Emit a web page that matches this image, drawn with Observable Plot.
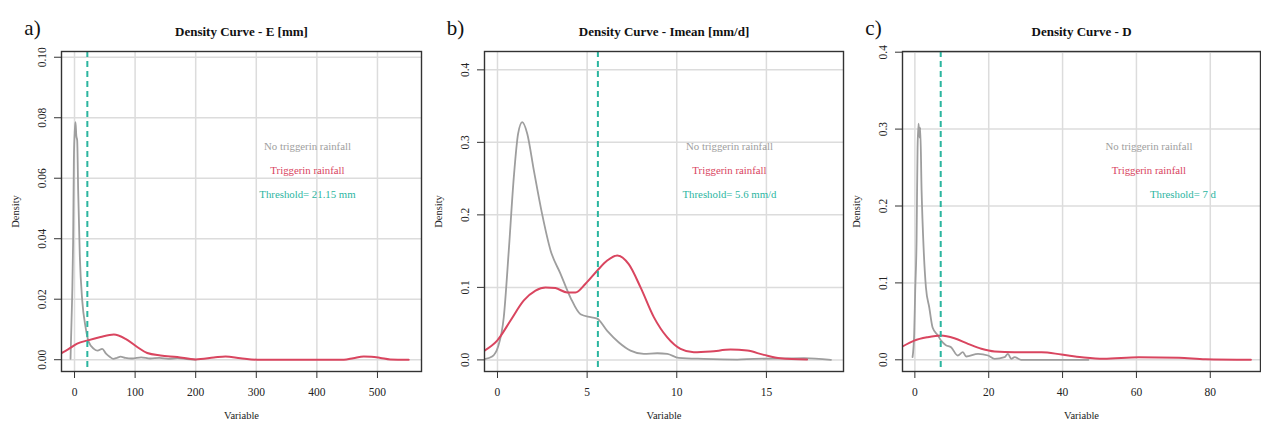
<!DOCTYPE html>
<html>
<head>
<meta charset="utf-8">
<script src="https://cdn.jsdelivr.net/npm/d3@7"></script>
<script src="https://cdn.jsdelivr.net/npm/@observablehq/plot@0.6"></script>
<style>
  body { margin: 0; background: white; font-family: "Liberation Serif", serif; }
  #wrap { position: relative; width: 1261px; height: 427px; overflow: hidden; background: white; }
  .panel { position: absolute; top: 0; }
  .panel text { font-family: "Liberation Serif", serif !important; }
</style>
</head>
<body>
<div id="wrap"></div>
<script>
// ---------------- DATA ----------------
const panelTags = ["a)", "b)", "c)"];
const titles = ["Density Curve - E [mm]", "Density Curve - Imean [mm/d]", "Density Curve - D"];
const legendLabels = ["No triggerin rainfall", "Triggerin rainfall"];
const thresholdLabels = ["Threshold= 21.15 mm", "Threshold= 5.6 mm/d", "Threshold= 7 d"];
const thresholds = [21.15, 5.6, 7];

const xTicksA = [0, 100, 200, 300, 400, 500];
const yTicksA = [0, 0.02, 0.04, 0.06, 0.08, 0.10];
const xTicksB = [0, 5, 10, 15];
const yTicksB = [0, 0.1, 0.2, 0.3, 0.4];
const xTicksC = [0, 20, 40, 60, 80];
const yTicksC = [0, 0.1, 0.2, 0.3, 0.4];

// Panel a: E [mm]  [x, density]
const grayA = [[-6.6,0.0003],[-3.9,0.0207],[-2.3,0.0394],[-1.1,0.0659],[0.5,0.076],[1.6,0.0785],[3,0.074],[4.4,0.0725],[6.0,0.056],[8.8,0.0339],[12.7,0.0196],[18.2,0.0108],[23.6,0.0058],[31.9,0.0036],[38,0.0030],[45.7,0.0036],[52,0.0020],[58,0.0010],[64,0.0003],[70,0.0006],[76,0.0010],[84,0.0006],[95,0.0004],[110,0.0008],[125,0.0004],[140,0.0006],[155,0.0003],[170,0.0005],[185,0.0002],[200,0.0]];
const redA = [[-21.5,0.0022],[-10,0.0035],[4.4,0.0053],[22,0.0064],[42.9,0.0075],[64.9,0.0083],[84.2,0.0069],[103.5,0.0042],[120,0.0022],[141.9,0.0014],[169.5,0.0009],[199.7,0.0001],[229.9,0.0007],[249.2,0.0011],[273.9,0.0005],[301.5,0.0],[444.5,0.0],[460,0.0005],[477.4,0.0011],[490,0.0010],[505,0.0006],[521,0.0001],[551.6,0.0]];

// Panel b: Imean [mm/d]
const grayB = [[-0.725,0.001],[-0.30,0.0046],[0.02,0.0174],[0.35,0.0588],[0.63,0.151],[0.91,0.252],[1.15,0.312],[1.38,0.328],[1.66,0.312],[2.03,0.261],[2.49,0.201],[2.96,0.151],[3.51,0.119],[4.07,0.086],[4.63,0.063],[5.19,0.059],[5.56,0.057],[6.12,0.040],[6.77,0.024],[7.42,0.0128],[8.16,0.0083],[8.91,0.0092],[9.47,0.0083],[10.11,0.0028],[11.5,0.0014],[13.37,0.0005],[14.3,0.0014],[16.16,0.002],[17.1,0.0025],[18.6,0.0]];
const redB = [[-0.725,0.0128],[-0.02,0.0266],[0.72,0.054],[1.47,0.082],[2.12,0.0956],[2.68,0.100],[3.23,0.099],[3.89,0.093],[4.35,0.093],[4.91,0.105],[5.56,0.123],[6.12,0.137],[6.68,0.144],[7.32,0.132],[7.98,0.100],[8.72,0.059],[9.47,0.031],[10.21,0.0152],[10.95,0.0105],[11.88,0.0115],[13.0,0.0142],[13.93,0.0128],[14.86,0.0069],[15.78,0.0023],[17.27,0.0005]];

// Panel c: D
const grayC = [[-0.63,0.0034],[-0.18,0.034],[0.09,0.090],[0.46,0.155],[0.73,0.276],[1.0,0.307],[1.27,0.289],[1.45,0.302],[1.82,0.220],[2.36,0.146],[3.0,0.094],[3.9,0.068],[4.8,0.042],[6.2,0.032],[7.1,0.025],[8.4,0.019],[9.8,0.0164],[11.6,0.0056],[13.0,0.0099],[13.9,0.0043],[17.1,0.0078],[19.8,0.0056],[21.6,0.0013],[24.3,0.0034],[25.2,0.0078],[26.1,0.0013],[27.0,0.0034],[28.8,0.0],[47,0.0]];
const redC = [[-3.35,0.0173],[-0.18,0.025],[3.45,0.0294],[7.07,0.0316],[10.7,0.0281],[14.4,0.0208],[18.0,0.0143],[21.6,0.0108],[27.0,0.0099],[34.3,0.0099],[39.7,0.0069],[45.2,0.0034],[51.1,0.0013],[60.6,0.0034],[71.5,0.0027],[78.7,0.0007],[91,0.0]];

// legend anchor positions (data coords)
const legendPosA = {x: [384.5, 384.5, 384.5], y: [0.0706, 0.0626, 0.0546]};
const legendPosB = {x: [12.94, 12.94, 12.94], y: [0.294, 0.261, 0.228]};
const legendPosC = {x: [63.4, 63.4, 72.6], y: [0.2774, 0.2462, 0.215]};

// ---------------- STYLE ----------------
const GRAY = "#9e9e9e";
const RED = "#d9455f";
const TEAL = "#2bb59f";
const GRID = "#dcdcdc";
const FONT = "'Liberation Serif', serif";

const panels = [
  {left: 0, width: 422, ml: 61, xDom: [-21.5, 572.7], yDom: [-0.0039, 0.1019], xT: xTicksA, yT: yTicksA,
   gray: grayA, red: redA, leg: legendPosA, yFmt: d3.format(".2f")},
  {left: 422, width: 422, ml: 62, xDom: [-0.725, 19.3], yDom: [-0.016, 0.4253], xT: xTicksB, yT: yTicksB,
   gray: grayB, red: redB, leg: legendPosB, yFmt: d3.format(".1f")},
  {left: 844, width: 417, ml: 58, xDom: [-3.35, 93.6], yDom: [-0.0152, 0.4009], xT: xTicksC, yT: yTicksC,
   gray: grayC, red: redC, leg: legendPosC, yFmt: d3.format(".1f")}
];

const wrap = document.getElementById("wrap");
panels.forEach((p, i) => {
  const legTexts = [legendLabels[0], legendLabels[1], thresholdLabels[i]];
  const legColors = [GRAY, RED, TEAL];
  const legRows = legTexts.map((t, k) => ({t, x: p.leg.x[k], y: p.leg.y[k], c: legColors[k]}));
  const chart = Plot.plot({
    width: p.width,
    height: 427,
    marginLeft: p.ml,
    marginRight: 1,
    marginTop: 51,
    marginBottom: 56,
    style: {fontFamily: FONT, fontSize: "11.5px", background: "transparent", overflow: "visible", color: "#222"},
    x: {domain: p.xDom, ticks: p.xT},
    y: {domain: p.yDom, ticks: p.yT},
    marks: [
      Plot.gridX(p.xT, {stroke: GRID, strokeOpacity: 1, strokeWidth: 1.5}),
      Plot.gridY(p.yT, {stroke: GRID, strokeOpacity: 1, strokeWidth: 1.5}),
      Plot.line(p.gray, {x: d => d[0], y: d => d[1], stroke: GRAY, strokeWidth: 1.8, curve: "monotone-x", clip: true}),
      Plot.line(p.red, {x: d => d[0], y: d => d[1], stroke: RED, strokeWidth: 2, curve: "monotone-x", clip: true}),
      Plot.ruleX([thresholds[i]], {x: d => d, stroke: TEAL, strokeWidth: 2, strokeDasharray: "6,4"}),
      Plot.frame({stroke: "#333", strokeWidth: 1.4}),
      Plot.axisX(p.xT, {tickSize: 7, tickPadding: 9, label: null, fontSize: 11.5, fontFamily: FONT, stroke: "#333"}),
      Plot.axisY(p.yT, {tickSize: 7, tickFormat: () => "", label: null, stroke: "#333"}),
      Plot.text(p.yT, {y: d => d, text: d => p.yFmt(d), frameAnchor: "left", dx: -19, rotate: -90, textAnchor: "middle", fontSize: 11.5, fontFamily: FONT, fill: "#222"}),
      Plot.text(legRows, {x: "x", y: "y", text: "t", fill: "c", fontSize: 10.8, fontFamily: FONT, textAnchor: "middle"}),
      Plot.text([titles[i]], {frameAnchor: "top", dy: -25, fontWeight: "bold", fontSize: 13, fontFamily: FONT, fill: "#111"}),
      Plot.text([panelTags[i]], {frameAnchor: "top-left", dx: -29, dy: -31, textAnchor: "middle", fontSize: 21, fontFamily: FONT, fill: "#111"}),
      Plot.text(["Density"], {frameAnchor: "left", dx: -46, rotate: -90, textAnchor: "middle", fontSize: 10.5, fontFamily: FONT, fill: "#222"}),
      Plot.text(["Variable"], {frameAnchor: "bottom", dy: 47, textAnchor: "middle", fontSize: 10.5, fontFamily: FONT, fill: "#222"})
    ]
  });
  chart.classList.add("panel");
  chart.style.left = p.left + "px";
  wrap.appendChild(chart);
});
</script>
</body>
</html>
